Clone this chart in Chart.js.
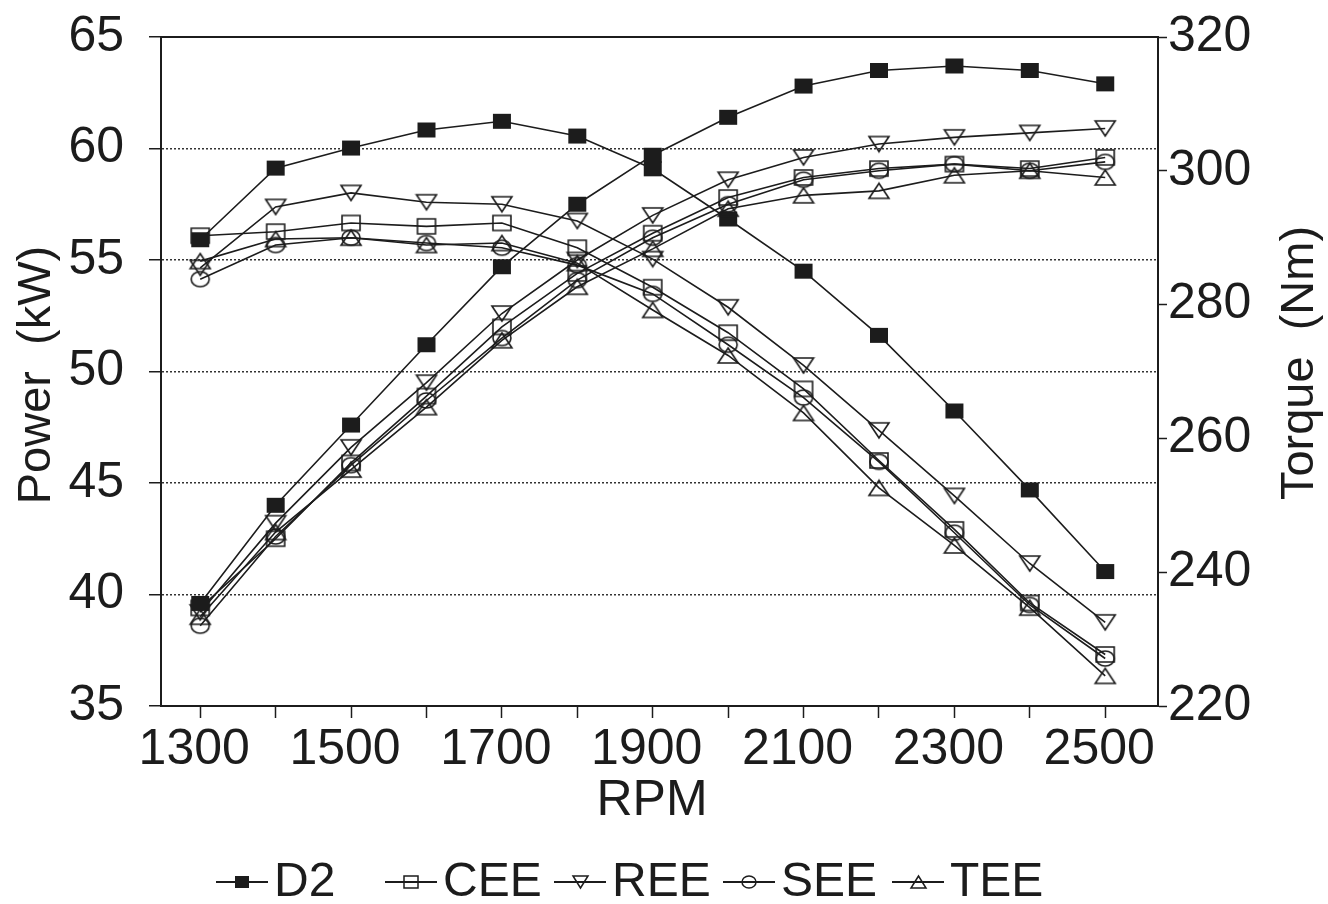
<!DOCTYPE html>
<html>
<head>
<meta charset="utf-8">
<script src="https://cdn.jsdelivr.net/npm/chart.js@4.4.1/dist/chart.umd.min.js"></script>
<style>
  html, body { margin: 0; padding: 0; background: #fff; }
  #wrap { width: 1328px; height: 904px; }
</style>
</head>
<body>
<div id="wrap"><canvas id="perfChart" width="1328" height="904"></canvas></div>
<script>
// x values (RPM) and the ticks that get a label
const rpm = [1300, 1400, 1500, 1600, 1700, 1800, 1900, 2000, 2100, 2200, 2300, 2400, 2500];
const rpmLabelTicks = [1300, 1500, 1700, 1900, 2100, 2300, 2500];
const powerTicks = [35, 40, 45, 50, 55, 60, 65];
const torqueTicks = [220, 240, 260, 280, 300, 320];

const seriesNames = ['D2', 'CEE', 'REE', 'SEE', 'TEE'];

// power (kW), left axis
const powerD2  = [39.6, 44.0, 47.6, 51.2, 54.7, 57.5, 59.7, 61.4, 62.8, 63.5, 63.7, 63.5, 62.9];
const powerCEE = [39.4, 42.5, 45.9, 48.9, 52.0, 54.4, 56.2, 57.8, 58.7, 59.1, 59.3, 59.1, 59.6];
const powerREE = [39.2, 43.2, 46.6, 49.5, 52.6, 55.0, 57.0, 58.6, 59.6, 60.2, 60.5, 60.7, 60.9];
const powerSEE = [38.6, 42.6, 45.8, 48.7, 51.5, 54.1, 56.0, 57.5, 58.6, 59.0, 59.3, 59.0, 59.4];
const powerTEE = [39.0, 42.8, 45.6, 48.4, 51.4, 53.8, 55.5, 57.3, 57.9, 58.1, 58.8, 59.0, 58.7];

// torque (Nm), right axis
const torqueD2  = [289.7, 300.4, 303.4, 306.1, 307.4, 305.2, 300.3, 292.8, 285.0, 275.4, 264.1, 252.3, 240.1];
const torqueCEE = [290.3, 290.9, 292.2, 291.7, 292.2, 288.5, 282.6, 275.8, 267.4, 256.7, 246.4, 235.4, 227.7];
const torqueREE = [285.5, 294.6, 296.7, 295.3, 295.0, 292.5, 286.8, 279.6, 270.9, 261.2, 251.4, 241.3, 232.5];
const torqueSEE = [283.8, 288.9, 290.0, 289.2, 288.5, 285.9, 281.6, 274.0, 266.1, 256.5, 245.9, 235.1, 227.1];
const torqueTEE = [286.5, 289.8, 290.0, 288.9, 289.2, 286.2, 279.2, 272.4, 263.8, 252.6, 244.0, 234.7, 224.5];

const INK = '#1c1c1c';
const FONT = '"Liberation Sans", Arial, Helvetica, sans-serif';

function makeMarker(kind, w, h, lw) {
    const pad = 2;
    const c = document.createElement('canvas');
    c.width = w + pad * 2;
    c.height = h + pad * 2;
    const g = c.getContext('2d');
    g.lineWidth = lw;
    g.strokeStyle = INK;
    g.fillStyle = INK;
    const cx = c.width / 2, cy = c.height / 2;
    g.beginPath();
    if (kind === 'filled' || kind === 'square') {
        g.rect(pad, pad, w, h);
    } else if (kind === 'down') {
        g.moveTo(pad, pad); g.lineTo(pad + w, pad); g.lineTo(cx, pad + h); g.closePath();
    } else if (kind === 'up') {
        g.moveTo(pad, pad + h); g.lineTo(pad + w, pad + h); g.lineTo(cx, pad); g.closePath();
    } else {
        g.ellipse(cx, cy, w / 2, h / 2, 0, 0, Math.PI * 2);
    }
    if (kind === 'filled') g.fill(); else g.stroke();
    return c;
}

const markerKinds = { D2: 'filled', CEE: 'square', REE: 'down', SEE: 'circle', TEE: 'up' };
const plotMarkers = {}, legendMarkers = {};
seriesNames.forEach(n => {
    const k = markerKinds[n];
    const big = k === 'down' || k === 'up' ? [20, 15] : [18, 15];
    const small = k === 'down' || k === 'up' ? [15, 12] : [14, 12];
    plotMarkers[n] = makeMarker(k, big[0], big[1], 1.6);
    legendMarkers[n] = makeMarker(k, small[0], small[1], 1.5);
});

function series(name, values, axis) {
    return {
        label: name,
        data: rpm.map((r, i) => ({ x: r, y: values[i] })),
        yAxisID: axis,
        borderColor: INK,
        backgroundColor: INK,
        borderWidth: 1.6,
        pointStyle: plotMarkers[name],
        pointRadius: 9,
        fill: false,
        tension: 0
    };
}

// frame top line, axis titles and the line+marker legend
const decorPlugin = {
    id: 'decor',
    afterDraw(chart) {
        const ctx = chart.ctx;
        const a = chart.chartArea;
        ctx.save();
        ctx.strokeStyle = INK;
        ctx.lineWidth = 2;
        ctx.beginPath();
        ctx.moveTo(a.left, a.top);
        ctx.lineTo(a.right, a.top);
        ctx.stroke();

        ctx.fillStyle = INK;
        ctx.textAlign = 'center';
        ctx.textBaseline = 'middle';
        ctx.font = '50px ' + FONT;
        ctx.fillText('RPM', 652, 801);

        ctx.font = '47px ' + FONT;
        ctx.save();
        ctx.translate(37, 375);
        ctx.rotate(-Math.PI / 2);
        ctx.fillText('Power  (kW)', 0, 0);
        ctx.restore();

        ctx.save();
        ctx.translate(1300, 363);
        ctx.rotate(-Math.PI / 2);
        ctx.fillText('Torque  (Nm)', 0, 0);
        ctx.restore();

        ctx.textAlign = 'left';
        ctx.font = '48px ' + FONT;
        seriesNames.forEach((name, i) => {
            const x = 216 + i * 169, y = 882;
            ctx.beginPath();
            ctx.moveTo(x, y);
            ctx.lineTo(x + 52, y);
            ctx.lineWidth = 2;
            ctx.stroke();
            const img = legendMarkers[name];
            ctx.drawImage(img, Math.round(x + 26 - img.width / 2), Math.round(y - img.height / 2));
            ctx.fillText(name, x + 58, y + 1);
        });
        ctx.restore();
    }
};

new Chart(document.getElementById('perfChart').getContext('2d'), {
    type: 'line',
    data: {
        datasets: [
            series('D2', powerD2, 'y'),
            series('CEE', powerCEE, 'y'),
            series('REE', powerREE, 'y'),
            series('SEE', powerSEE, 'y'),
            series('TEE', powerTEE, 'y'),
            series('D2', torqueD2, 'y1'),
            series('CEE', torqueCEE, 'y1'),
            series('REE', torqueREE, 'y1'),
            series('SEE', torqueSEE, 'y1'),
            series('TEE', torqueTEE, 'y1')
        ]
    },
    options: {
        responsive: false,
        animation: false,
        layout: { padding: { top: 37, bottom: 70, left: 0, right: 0 } },
        plugins: {
            legend: { display: false },
            tooltip: { enabled: false }
        },
        scales: {
            x: {
                type: 'linear',
                min: 1248,
                max: 2570,
                afterBuildTicks: s => { s.ticks = rpm.map(v => ({ value: v })); },
                afterFit: s => { s.height = 128; },
                border: { color: INK, width: 2 },
                grid: { drawOnChartArea: false, drawTicks: true, tickLength: 12, tickColor: INK, tickWidth: 1.5 },
                ticks: {
                    color: INK,
                    padding: 2,
                    labelOffset: -6,
                    maxRotation: 0,
                    autoSkip: false,
                    font: { family: FONT, size: 50 },
                    callback: v => rpmLabelTicks.includes(v) ? String(v) : ''
                }
            },
            y: {
                position: 'left',
                min: 35,
                max: 65,
                afterBuildTicks: s => { s.ticks = powerTicks.map(v => ({ value: v })); },
                afterFit: s => { s.width = 161; s.paddingTop = 20; s.paddingBottom = 20; },
                border: { color: INK, width: 2, dash: [2, 2] },
                grid: {
                    color: c => (c.tick && (c.tick.value === 35 || c.tick.value === 65)) ? 'rgba(0,0,0,0)' : '#333',
                    lineWidth: 1.5,
                    tickLength: 12,
                    tickColor: INK,
                    tickWidth: 1.5,
                    tickBorderDash: []
                },
                ticks: { color: INK, padding: 25, font: { family: FONT, size: 50 } }
            },
            y1: {
                position: 'right',
                min: 220,
                max: 320,
                afterBuildTicks: s => { s.ticks = torqueTicks.map(v => ({ value: v })); },
                afterFit: s => { s.width = 170; s.paddingTop = 20; s.paddingBottom = 20; },
                border: { color: INK, width: 2 },
                grid: { drawOnChartArea: false, tickLength: 9, tickColor: INK, tickWidth: 1.5 },
                ticks: { color: INK, padding: 1, font: { family: FONT, size: 50 } }
            }
        }
    },
    plugins: [decorPlugin]
});
</script>
</body>
</html>
